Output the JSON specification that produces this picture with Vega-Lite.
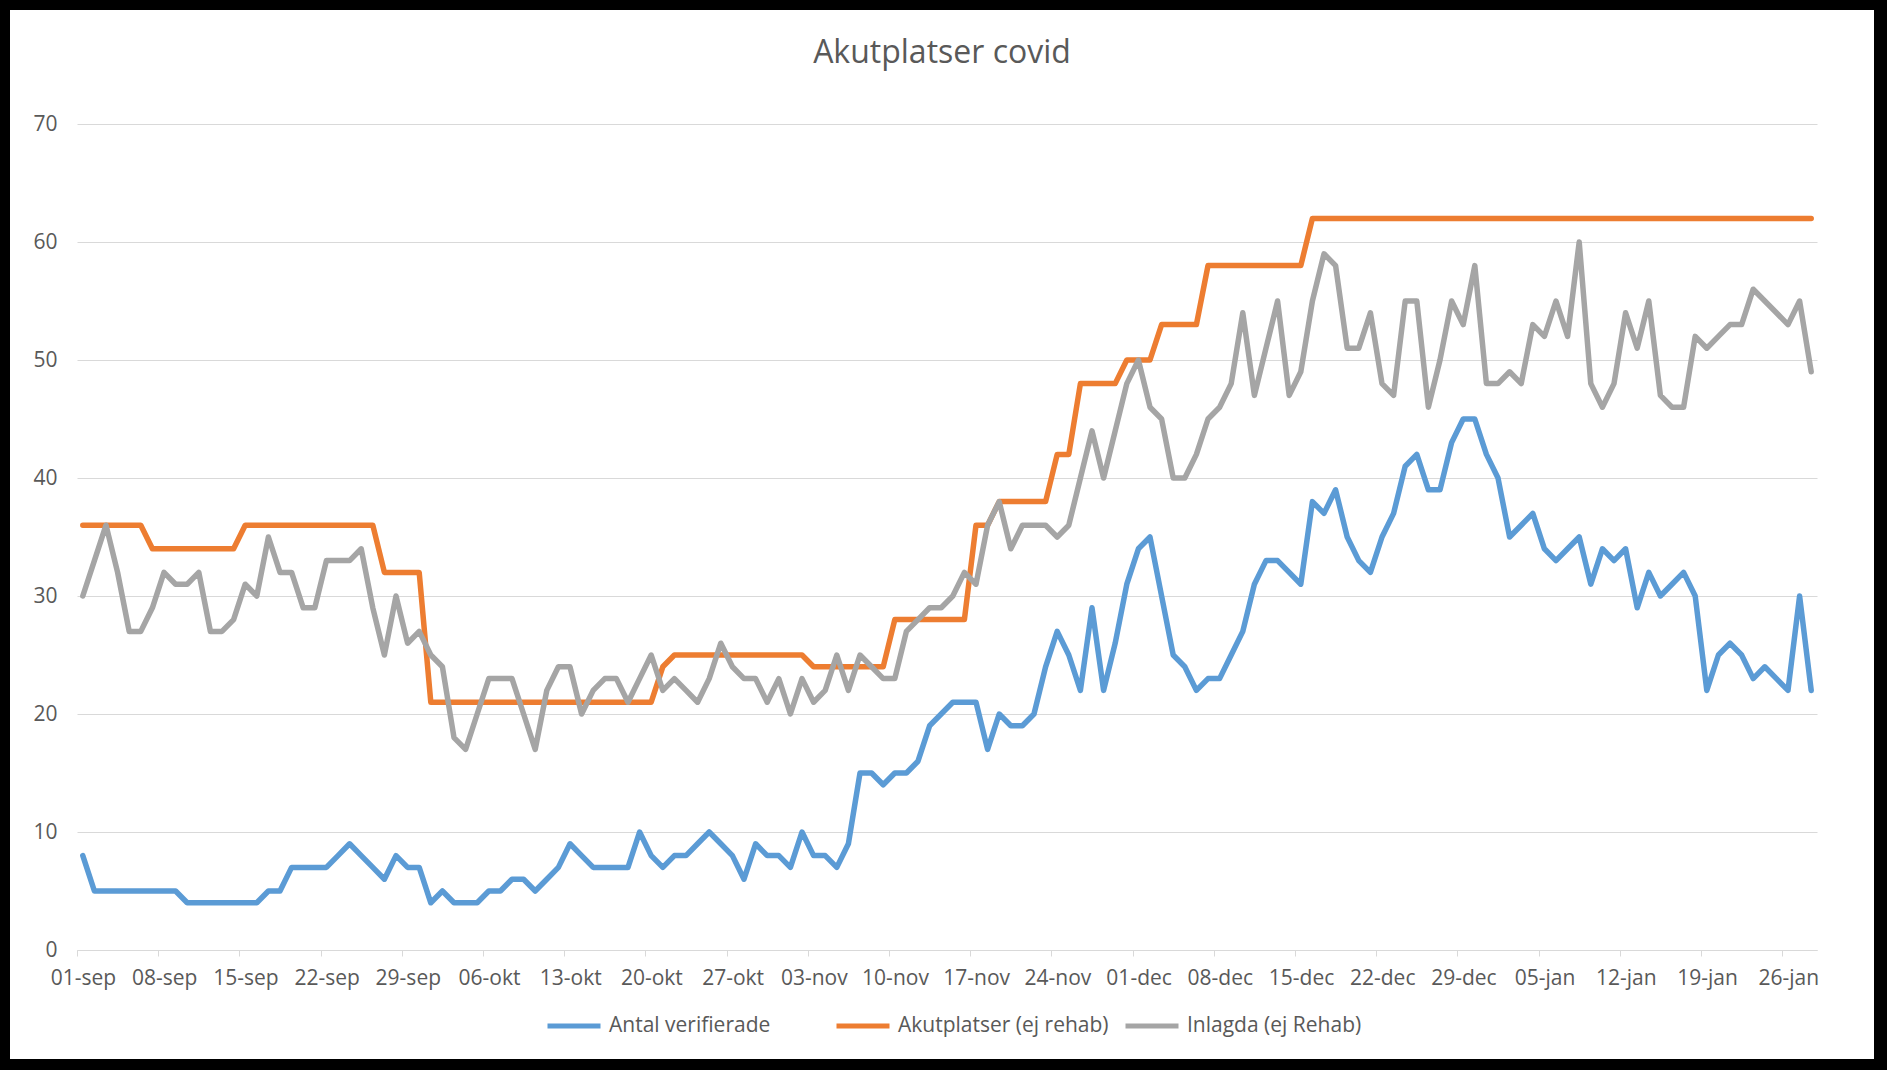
{
  "$schema": "https://vega.github.io/schema/vega-lite/v6.json",
  "width": 1864,
  "height": 1049,
  "autosize": {"type": "none"},
  "padding": {"left": 10, "top": 10, "right": 13, "bottom": 11},
  "background": "#000000",
  "title": {"text": "Akutplatser covid", "fontSize": 32, "font": "Open Sans", "fontWeight": "normal", "color": "#595959", "anchor": "middle", "offset": -60},
  "data": {"values": [
{"datum":"2020-09-01","Antal verifierade":8,"Akutplatser (ej rehab)":36,"Inlagda (ej Rehab)":30},
{"datum":"2020-09-02","Antal verifierade":5,"Akutplatser (ej rehab)":36,"Inlagda (ej Rehab)":33},
{"datum":"2020-09-03","Antal verifierade":5,"Akutplatser (ej rehab)":36,"Inlagda (ej Rehab)":36},
{"datum":"2020-09-04","Antal verifierade":5,"Akutplatser (ej rehab)":36,"Inlagda (ej Rehab)":32},
{"datum":"2020-09-05","Antal verifierade":5,"Akutplatser (ej rehab)":36,"Inlagda (ej Rehab)":27},
{"datum":"2020-09-06","Antal verifierade":5,"Akutplatser (ej rehab)":36,"Inlagda (ej Rehab)":27},
{"datum":"2020-09-07","Antal verifierade":5,"Akutplatser (ej rehab)":34,"Inlagda (ej Rehab)":29},
{"datum":"2020-09-08","Antal verifierade":5,"Akutplatser (ej rehab)":34,"Inlagda (ej Rehab)":32},
{"datum":"2020-09-09","Antal verifierade":5,"Akutplatser (ej rehab)":34,"Inlagda (ej Rehab)":31},
{"datum":"2020-09-10","Antal verifierade":4,"Akutplatser (ej rehab)":34,"Inlagda (ej Rehab)":31},
{"datum":"2020-09-11","Antal verifierade":4,"Akutplatser (ej rehab)":34,"Inlagda (ej Rehab)":32},
{"datum":"2020-09-12","Antal verifierade":4,"Akutplatser (ej rehab)":34,"Inlagda (ej Rehab)":27},
{"datum":"2020-09-13","Antal verifierade":4,"Akutplatser (ej rehab)":34,"Inlagda (ej Rehab)":27},
{"datum":"2020-09-14","Antal verifierade":4,"Akutplatser (ej rehab)":34,"Inlagda (ej Rehab)":28},
{"datum":"2020-09-15","Antal verifierade":4,"Akutplatser (ej rehab)":36,"Inlagda (ej Rehab)":31},
{"datum":"2020-09-16","Antal verifierade":4,"Akutplatser (ej rehab)":36,"Inlagda (ej Rehab)":30},
{"datum":"2020-09-17","Antal verifierade":5,"Akutplatser (ej rehab)":36,"Inlagda (ej Rehab)":35},
{"datum":"2020-09-18","Antal verifierade":5,"Akutplatser (ej rehab)":36,"Inlagda (ej Rehab)":32},
{"datum":"2020-09-19","Antal verifierade":7,"Akutplatser (ej rehab)":36,"Inlagda (ej Rehab)":32},
{"datum":"2020-09-20","Antal verifierade":7,"Akutplatser (ej rehab)":36,"Inlagda (ej Rehab)":29},
{"datum":"2020-09-21","Antal verifierade":7,"Akutplatser (ej rehab)":36,"Inlagda (ej Rehab)":29},
{"datum":"2020-09-22","Antal verifierade":7,"Akutplatser (ej rehab)":36,"Inlagda (ej Rehab)":33},
{"datum":"2020-09-23","Antal verifierade":8,"Akutplatser (ej rehab)":36,"Inlagda (ej Rehab)":33},
{"datum":"2020-09-24","Antal verifierade":9,"Akutplatser (ej rehab)":36,"Inlagda (ej Rehab)":33},
{"datum":"2020-09-25","Antal verifierade":8,"Akutplatser (ej rehab)":36,"Inlagda (ej Rehab)":34},
{"datum":"2020-09-26","Antal verifierade":7,"Akutplatser (ej rehab)":36,"Inlagda (ej Rehab)":29},
{"datum":"2020-09-27","Antal verifierade":6,"Akutplatser (ej rehab)":32,"Inlagda (ej Rehab)":25},
{"datum":"2020-09-28","Antal verifierade":8,"Akutplatser (ej rehab)":32,"Inlagda (ej Rehab)":30},
{"datum":"2020-09-29","Antal verifierade":7,"Akutplatser (ej rehab)":32,"Inlagda (ej Rehab)":26},
{"datum":"2020-09-30","Antal verifierade":7,"Akutplatser (ej rehab)":32,"Inlagda (ej Rehab)":27},
{"datum":"2020-10-01","Antal verifierade":4,"Akutplatser (ej rehab)":21,"Inlagda (ej Rehab)":25},
{"datum":"2020-10-02","Antal verifierade":5,"Akutplatser (ej rehab)":21,"Inlagda (ej Rehab)":24},
{"datum":"2020-10-03","Antal verifierade":4,"Akutplatser (ej rehab)":21,"Inlagda (ej Rehab)":18},
{"datum":"2020-10-04","Antal verifierade":4,"Akutplatser (ej rehab)":21,"Inlagda (ej Rehab)":17},
{"datum":"2020-10-05","Antal verifierade":4,"Akutplatser (ej rehab)":21,"Inlagda (ej Rehab)":20},
{"datum":"2020-10-06","Antal verifierade":5,"Akutplatser (ej rehab)":21,"Inlagda (ej Rehab)":23},
{"datum":"2020-10-07","Antal verifierade":5,"Akutplatser (ej rehab)":21,"Inlagda (ej Rehab)":23},
{"datum":"2020-10-08","Antal verifierade":6,"Akutplatser (ej rehab)":21,"Inlagda (ej Rehab)":23},
{"datum":"2020-10-09","Antal verifierade":6,"Akutplatser (ej rehab)":21,"Inlagda (ej Rehab)":20},
{"datum":"2020-10-10","Antal verifierade":5,"Akutplatser (ej rehab)":21,"Inlagda (ej Rehab)":17},
{"datum":"2020-10-11","Antal verifierade":6,"Akutplatser (ej rehab)":21,"Inlagda (ej Rehab)":22},
{"datum":"2020-10-12","Antal verifierade":7,"Akutplatser (ej rehab)":21,"Inlagda (ej Rehab)":24},
{"datum":"2020-10-13","Antal verifierade":9,"Akutplatser (ej rehab)":21,"Inlagda (ej Rehab)":24},
{"datum":"2020-10-14","Antal verifierade":8,"Akutplatser (ej rehab)":21,"Inlagda (ej Rehab)":20},
{"datum":"2020-10-15","Antal verifierade":7,"Akutplatser (ej rehab)":21,"Inlagda (ej Rehab)":22},
{"datum":"2020-10-16","Antal verifierade":7,"Akutplatser (ej rehab)":21,"Inlagda (ej Rehab)":23},
{"datum":"2020-10-17","Antal verifierade":7,"Akutplatser (ej rehab)":21,"Inlagda (ej Rehab)":23},
{"datum":"2020-10-18","Antal verifierade":7,"Akutplatser (ej rehab)":21,"Inlagda (ej Rehab)":21},
{"datum":"2020-10-19","Antal verifierade":10,"Akutplatser (ej rehab)":21,"Inlagda (ej Rehab)":23},
{"datum":"2020-10-20","Antal verifierade":8,"Akutplatser (ej rehab)":21,"Inlagda (ej Rehab)":25},
{"datum":"2020-10-21","Antal verifierade":7,"Akutplatser (ej rehab)":24,"Inlagda (ej Rehab)":22},
{"datum":"2020-10-22","Antal verifierade":8,"Akutplatser (ej rehab)":25,"Inlagda (ej Rehab)":23},
{"datum":"2020-10-23","Antal verifierade":8,"Akutplatser (ej rehab)":25,"Inlagda (ej Rehab)":22},
{"datum":"2020-10-24","Antal verifierade":9,"Akutplatser (ej rehab)":25,"Inlagda (ej Rehab)":21},
{"datum":"2020-10-25","Antal verifierade":10,"Akutplatser (ej rehab)":25,"Inlagda (ej Rehab)":23},
{"datum":"2020-10-26","Antal verifierade":9,"Akutplatser (ej rehab)":25,"Inlagda (ej Rehab)":26},
{"datum":"2020-10-27","Antal verifierade":8,"Akutplatser (ej rehab)":25,"Inlagda (ej Rehab)":24},
{"datum":"2020-10-28","Antal verifierade":6,"Akutplatser (ej rehab)":25,"Inlagda (ej Rehab)":23},
{"datum":"2020-10-29","Antal verifierade":9,"Akutplatser (ej rehab)":25,"Inlagda (ej Rehab)":23},
{"datum":"2020-10-30","Antal verifierade":8,"Akutplatser (ej rehab)":25,"Inlagda (ej Rehab)":21},
{"datum":"2020-10-31","Antal verifierade":8,"Akutplatser (ej rehab)":25,"Inlagda (ej Rehab)":23},
{"datum":"2020-11-01","Antal verifierade":7,"Akutplatser (ej rehab)":25,"Inlagda (ej Rehab)":20},
{"datum":"2020-11-02","Antal verifierade":10,"Akutplatser (ej rehab)":25,"Inlagda (ej Rehab)":23},
{"datum":"2020-11-03","Antal verifierade":8,"Akutplatser (ej rehab)":24,"Inlagda (ej Rehab)":21},
{"datum":"2020-11-04","Antal verifierade":8,"Akutplatser (ej rehab)":24,"Inlagda (ej Rehab)":22},
{"datum":"2020-11-05","Antal verifierade":7,"Akutplatser (ej rehab)":24,"Inlagda (ej Rehab)":25},
{"datum":"2020-11-06","Antal verifierade":9,"Akutplatser (ej rehab)":24,"Inlagda (ej Rehab)":22},
{"datum":"2020-11-07","Antal verifierade":15,"Akutplatser (ej rehab)":24,"Inlagda (ej Rehab)":25},
{"datum":"2020-11-08","Antal verifierade":15,"Akutplatser (ej rehab)":24,"Inlagda (ej Rehab)":24},
{"datum":"2020-11-09","Antal verifierade":14,"Akutplatser (ej rehab)":24,"Inlagda (ej Rehab)":23},
{"datum":"2020-11-10","Antal verifierade":15,"Akutplatser (ej rehab)":28,"Inlagda (ej Rehab)":23},
{"datum":"2020-11-11","Antal verifierade":15,"Akutplatser (ej rehab)":28,"Inlagda (ej Rehab)":27},
{"datum":"2020-11-12","Antal verifierade":16,"Akutplatser (ej rehab)":28,"Inlagda (ej Rehab)":28},
{"datum":"2020-11-13","Antal verifierade":19,"Akutplatser (ej rehab)":28,"Inlagda (ej Rehab)":29},
{"datum":"2020-11-14","Antal verifierade":20,"Akutplatser (ej rehab)":28,"Inlagda (ej Rehab)":29},
{"datum":"2020-11-15","Antal verifierade":21,"Akutplatser (ej rehab)":28,"Inlagda (ej Rehab)":30},
{"datum":"2020-11-16","Antal verifierade":21,"Akutplatser (ej rehab)":28,"Inlagda (ej Rehab)":32},
{"datum":"2020-11-17","Antal verifierade":21,"Akutplatser (ej rehab)":36,"Inlagda (ej Rehab)":31},
{"datum":"2020-11-18","Antal verifierade":17,"Akutplatser (ej rehab)":36,"Inlagda (ej Rehab)":36},
{"datum":"2020-11-19","Antal verifierade":20,"Akutplatser (ej rehab)":38,"Inlagda (ej Rehab)":38},
{"datum":"2020-11-20","Antal verifierade":19,"Akutplatser (ej rehab)":38,"Inlagda (ej Rehab)":34},
{"datum":"2020-11-21","Antal verifierade":19,"Akutplatser (ej rehab)":38,"Inlagda (ej Rehab)":36},
{"datum":"2020-11-22","Antal verifierade":20,"Akutplatser (ej rehab)":38,"Inlagda (ej Rehab)":36},
{"datum":"2020-11-23","Antal verifierade":24,"Akutplatser (ej rehab)":38,"Inlagda (ej Rehab)":36},
{"datum":"2020-11-24","Antal verifierade":27,"Akutplatser (ej rehab)":42,"Inlagda (ej Rehab)":35},
{"datum":"2020-11-25","Antal verifierade":25,"Akutplatser (ej rehab)":42,"Inlagda (ej Rehab)":36},
{"datum":"2020-11-26","Antal verifierade":22,"Akutplatser (ej rehab)":48,"Inlagda (ej Rehab)":40},
{"datum":"2020-11-27","Antal verifierade":29,"Akutplatser (ej rehab)":48,"Inlagda (ej Rehab)":44},
{"datum":"2020-11-28","Antal verifierade":22,"Akutplatser (ej rehab)":48,"Inlagda (ej Rehab)":40},
{"datum":"2020-11-29","Antal verifierade":26,"Akutplatser (ej rehab)":48,"Inlagda (ej Rehab)":44},
{"datum":"2020-11-30","Antal verifierade":31,"Akutplatser (ej rehab)":50,"Inlagda (ej Rehab)":48},
{"datum":"2020-12-01","Antal verifierade":34,"Akutplatser (ej rehab)":50,"Inlagda (ej Rehab)":50},
{"datum":"2020-12-02","Antal verifierade":35,"Akutplatser (ej rehab)":50,"Inlagda (ej Rehab)":46},
{"datum":"2020-12-03","Antal verifierade":30,"Akutplatser (ej rehab)":53,"Inlagda (ej Rehab)":45},
{"datum":"2020-12-04","Antal verifierade":25,"Akutplatser (ej rehab)":53,"Inlagda (ej Rehab)":40},
{"datum":"2020-12-05","Antal verifierade":24,"Akutplatser (ej rehab)":53,"Inlagda (ej Rehab)":40},
{"datum":"2020-12-06","Antal verifierade":22,"Akutplatser (ej rehab)":53,"Inlagda (ej Rehab)":42},
{"datum":"2020-12-07","Antal verifierade":23,"Akutplatser (ej rehab)":58,"Inlagda (ej Rehab)":45},
{"datum":"2020-12-08","Antal verifierade":23,"Akutplatser (ej rehab)":58,"Inlagda (ej Rehab)":46},
{"datum":"2020-12-09","Antal verifierade":25,"Akutplatser (ej rehab)":58,"Inlagda (ej Rehab)":48},
{"datum":"2020-12-10","Antal verifierade":27,"Akutplatser (ej rehab)":58,"Inlagda (ej Rehab)":54},
{"datum":"2020-12-11","Antal verifierade":31,"Akutplatser (ej rehab)":58,"Inlagda (ej Rehab)":47},
{"datum":"2020-12-12","Antal verifierade":33,"Akutplatser (ej rehab)":58,"Inlagda (ej Rehab)":51},
{"datum":"2020-12-13","Antal verifierade":33,"Akutplatser (ej rehab)":58,"Inlagda (ej Rehab)":55},
{"datum":"2020-12-14","Antal verifierade":32,"Akutplatser (ej rehab)":58,"Inlagda (ej Rehab)":47},
{"datum":"2020-12-15","Antal verifierade":31,"Akutplatser (ej rehab)":58,"Inlagda (ej Rehab)":49},
{"datum":"2020-12-16","Antal verifierade":38,"Akutplatser (ej rehab)":62,"Inlagda (ej Rehab)":55},
{"datum":"2020-12-17","Antal verifierade":37,"Akutplatser (ej rehab)":62,"Inlagda (ej Rehab)":59},
{"datum":"2020-12-18","Antal verifierade":39,"Akutplatser (ej rehab)":62,"Inlagda (ej Rehab)":58},
{"datum":"2020-12-19","Antal verifierade":35,"Akutplatser (ej rehab)":62,"Inlagda (ej Rehab)":51},
{"datum":"2020-12-20","Antal verifierade":33,"Akutplatser (ej rehab)":62,"Inlagda (ej Rehab)":51},
{"datum":"2020-12-21","Antal verifierade":32,"Akutplatser (ej rehab)":62,"Inlagda (ej Rehab)":54},
{"datum":"2020-12-22","Antal verifierade":35,"Akutplatser (ej rehab)":62,"Inlagda (ej Rehab)":48},
{"datum":"2020-12-23","Antal verifierade":37,"Akutplatser (ej rehab)":62,"Inlagda (ej Rehab)":47},
{"datum":"2020-12-24","Antal verifierade":41,"Akutplatser (ej rehab)":62,"Inlagda (ej Rehab)":55},
{"datum":"2020-12-25","Antal verifierade":42,"Akutplatser (ej rehab)":62,"Inlagda (ej Rehab)":55},
{"datum":"2020-12-26","Antal verifierade":39,"Akutplatser (ej rehab)":62,"Inlagda (ej Rehab)":46},
{"datum":"2020-12-27","Antal verifierade":39,"Akutplatser (ej rehab)":62,"Inlagda (ej Rehab)":50},
{"datum":"2020-12-28","Antal verifierade":43,"Akutplatser (ej rehab)":62,"Inlagda (ej Rehab)":55},
{"datum":"2020-12-29","Antal verifierade":45,"Akutplatser (ej rehab)":62,"Inlagda (ej Rehab)":53},
{"datum":"2020-12-30","Antal verifierade":45,"Akutplatser (ej rehab)":62,"Inlagda (ej Rehab)":58},
{"datum":"2020-12-31","Antal verifierade":42,"Akutplatser (ej rehab)":62,"Inlagda (ej Rehab)":48},
{"datum":"2021-01-01","Antal verifierade":40,"Akutplatser (ej rehab)":62,"Inlagda (ej Rehab)":48},
{"datum":"2021-01-02","Antal verifierade":35,"Akutplatser (ej rehab)":62,"Inlagda (ej Rehab)":49},
{"datum":"2021-01-03","Antal verifierade":36,"Akutplatser (ej rehab)":62,"Inlagda (ej Rehab)":48},
{"datum":"2021-01-04","Antal verifierade":37,"Akutplatser (ej rehab)":62,"Inlagda (ej Rehab)":53},
{"datum":"2021-01-05","Antal verifierade":34,"Akutplatser (ej rehab)":62,"Inlagda (ej Rehab)":52},
{"datum":"2021-01-06","Antal verifierade":33,"Akutplatser (ej rehab)":62,"Inlagda (ej Rehab)":55},
{"datum":"2021-01-07","Antal verifierade":34,"Akutplatser (ej rehab)":62,"Inlagda (ej Rehab)":52},
{"datum":"2021-01-08","Antal verifierade":35,"Akutplatser (ej rehab)":62,"Inlagda (ej Rehab)":60},
{"datum":"2021-01-09","Antal verifierade":31,"Akutplatser (ej rehab)":62,"Inlagda (ej Rehab)":48},
{"datum":"2021-01-10","Antal verifierade":34,"Akutplatser (ej rehab)":62,"Inlagda (ej Rehab)":46},
{"datum":"2021-01-11","Antal verifierade":33,"Akutplatser (ej rehab)":62,"Inlagda (ej Rehab)":48},
{"datum":"2021-01-12","Antal verifierade":34,"Akutplatser (ej rehab)":62,"Inlagda (ej Rehab)":54},
{"datum":"2021-01-13","Antal verifierade":29,"Akutplatser (ej rehab)":62,"Inlagda (ej Rehab)":51},
{"datum":"2021-01-14","Antal verifierade":32,"Akutplatser (ej rehab)":62,"Inlagda (ej Rehab)":55},
{"datum":"2021-01-15","Antal verifierade":30,"Akutplatser (ej rehab)":62,"Inlagda (ej Rehab)":47},
{"datum":"2021-01-16","Antal verifierade":31,"Akutplatser (ej rehab)":62,"Inlagda (ej Rehab)":46},
{"datum":"2021-01-17","Antal verifierade":32,"Akutplatser (ej rehab)":62,"Inlagda (ej Rehab)":46},
{"datum":"2021-01-18","Antal verifierade":30,"Akutplatser (ej rehab)":62,"Inlagda (ej Rehab)":52},
{"datum":"2021-01-19","Antal verifierade":22,"Akutplatser (ej rehab)":62,"Inlagda (ej Rehab)":51},
{"datum":"2021-01-20","Antal verifierade":25,"Akutplatser (ej rehab)":62,"Inlagda (ej Rehab)":52},
{"datum":"2021-01-21","Antal verifierade":26,"Akutplatser (ej rehab)":62,"Inlagda (ej Rehab)":53},
{"datum":"2021-01-22","Antal verifierade":25,"Akutplatser (ej rehab)":62,"Inlagda (ej Rehab)":53},
{"datum":"2021-01-23","Antal verifierade":23,"Akutplatser (ej rehab)":62,"Inlagda (ej Rehab)":56},
{"datum":"2021-01-24","Antal verifierade":24,"Akutplatser (ej rehab)":62,"Inlagda (ej Rehab)":55},
{"datum":"2021-01-25","Antal verifierade":23,"Akutplatser (ej rehab)":62,"Inlagda (ej Rehab)":54},
{"datum":"2021-01-26","Antal verifierade":22,"Akutplatser (ej rehab)":62,"Inlagda (ej Rehab)":53},
{"datum":"2021-01-27","Antal verifierade":30,"Akutplatser (ej rehab)":62,"Inlagda (ej Rehab)":55},
{"datum":"2021-01-28","Antal verifierade":22,"Akutplatser (ej rehab)":62,"Inlagda (ej Rehab)":49}
  ]},
  "transform": [
    {"fold": ["Antal verifierade", "Akutplatser (ej rehab)", "Inlagda (ej Rehab)"], "as": ["serie", "antal"]}
  ],
  "mark": {"type": "line", "strokeWidth": 5.5, "strokeJoin": "round", "strokeCap": "round"},
  "encoding": {
    "x": {
      "field": "datum", "type": "temporal", "timeUnit": "utcyearmonthdate", "bandPosition": 0.5,
      "scale": {"type": "utc", "nice": false,
        "domain": [{"year": 2020, "month": 9, "date": 1, "utc": true}, {"year": 2021, "month": 1, "date": 29, "utc": true}],
        "range": [67, 1807]},
      "axis": {
        "title": null, "grid": false, "offset": -109,
        "values": [
          {"year": 2020, "month": 9, "date": 1, "utc": true},
          {"year": 2020, "month": 9, "date": 8, "utc": true},
          {"year": 2020, "month": 9, "date": 15, "utc": true},
          {"year": 2020, "month": 9, "date": 22, "utc": true},
          {"year": 2020, "month": 9, "date": 29, "utc": true},
          {"year": 2020, "month": 10, "date": 6, "utc": true},
          {"year": 2020, "month": 10, "date": 13, "utc": true},
          {"year": 2020, "month": 10, "date": 20, "utc": true},
          {"year": 2020, "month": 10, "date": 27, "utc": true},
          {"year": 2020, "month": 11, "date": 3, "utc": true},
          {"year": 2020, "month": 11, "date": 10, "utc": true},
          {"year": 2020, "month": 11, "date": 17, "utc": true},
          {"year": 2020, "month": 11, "date": 24, "utc": true},
          {"year": 2020, "month": 12, "date": 1, "utc": true},
          {"year": 2020, "month": 12, "date": 8, "utc": true},
          {"year": 2020, "month": 12, "date": 15, "utc": true},
          {"year": 2020, "month": 12, "date": 22, "utc": true},
          {"year": 2020, "month": 12, "date": 29, "utc": true},
          {"year": 2021, "month": 1, "date": 5, "utc": true},
          {"year": 2021, "month": 1, "date": 12, "utc": true},
          {"year": 2021, "month": 1, "date": 19, "utc": true},
          {"year": 2021, "month": 1, "date": 26, "utc": true}
        ],
        "labelExpr": "utcFormat(datum.value, '%d') + '-' + ['jan','feb','mar','apr','maj','jun','jul','aug','sep','okt','nov','dec'][utcmonth(datum.value)]",
        "labelOffset": 6, "labelPadding": 11, "labelOverlap": false, "labelFlush": false, "labelBound": false,
        "labelFontSize": 21, "labelColor": "#595959", "labelFont": "Open Sans",
        "tickSize": 6, "tickColor": "#D9D9D9", "tickWidth": 1,
        "domainColor": "#D9D9D9", "domainWidth": 1
      }
    },
    "y": {
      "field": "antal", "type": "quantitative",
      "scale": {"domain": [0, 70], "range": [940, 114], "nice": false, "zero": true},
      "axis": {
        "title": null, "values": [0, 10, 20, 30, 40, 50, 60, 70], "offset": -47,
        "domain": false, "ticks": false, "tickSize": 0, "labelPadding": 0,
        "labelFontSize": 21, "labelColor": "#595959", "labelFont": "Open Sans",
        "grid": true, "gridColor": "#D9D9D9", "gridWidth": 1
      }
    },
    "color": {
      "field": "serie", "type": "nominal",
      "scale": {"domain": ["Antal verifierade", "Akutplatser (ej rehab)", "Inlagda (ej Rehab)"], "range": ["#5B9BD5", "#ED7D31", "#A5A5A5"]},
      "legend": {
        "title": null, "orient": "none", "legendX": 535, "legendY": 987, "direction": "horizontal",
        "columns": 3, "gridAlign": "all", "columnPadding": 6, "padding": 0,
        "symbolType": "stroke", "symbolStrokeWidth": 5, "symbolSize": 2809,
        "labelFontSize": 21, "labelColor": "#595959", "labelFont": "Open Sans", "labelOffset": 6, "labelLimit": 400
      }
    }
  },
  "config": {
    "view": {"fill": "white", "stroke": null},
    "font": "Open Sans"
  }
}
